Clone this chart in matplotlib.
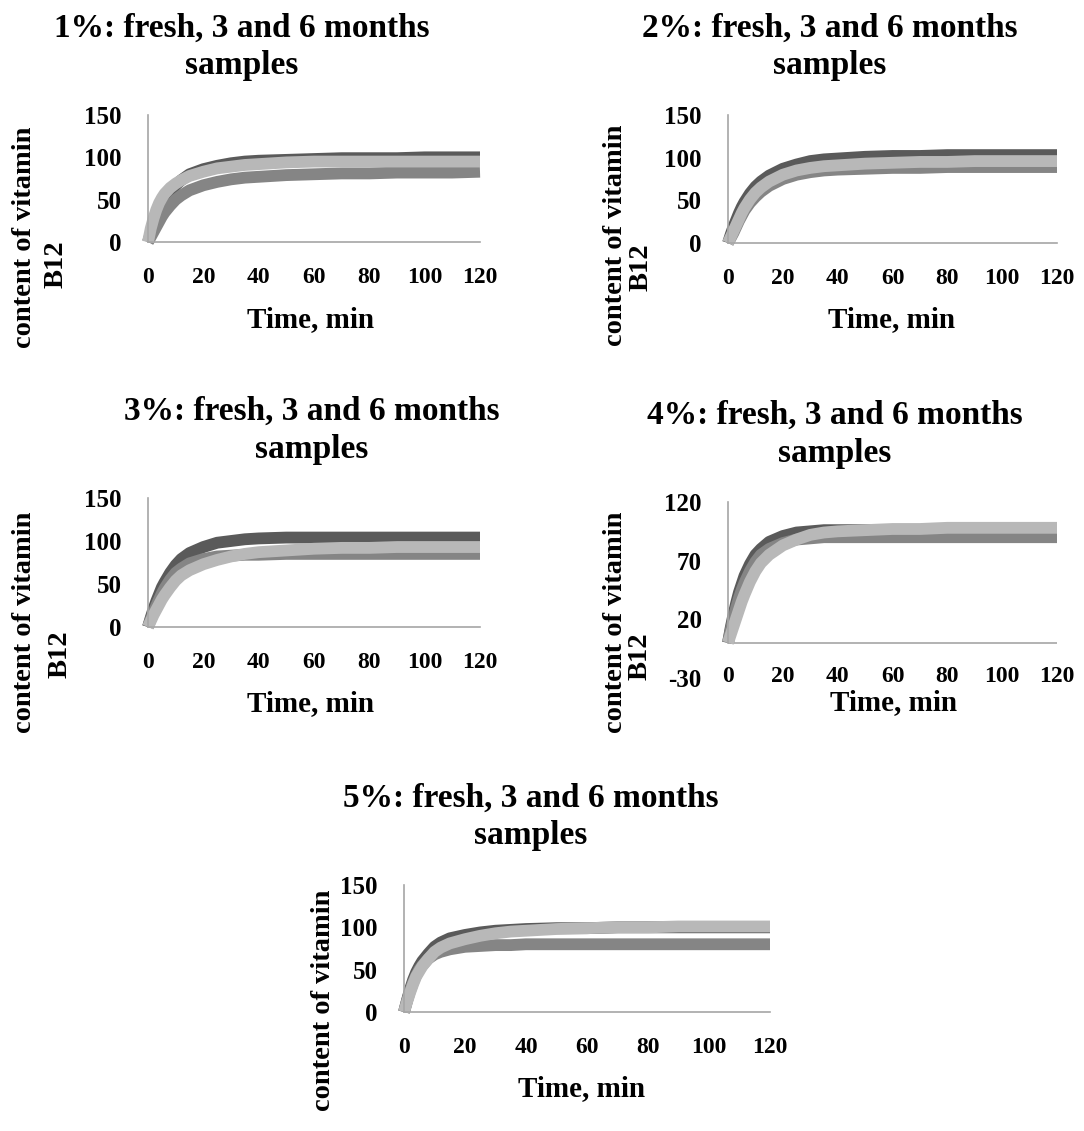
import matplotlib
matplotlib.use("Agg")
import matplotlib.pyplot as plt

plt.rcParams['font.family'] = ['Liberation Serif', 'DejaVu Serif']
plt.rcParams['font.weight'] = 'bold'
plt.rcParams['axes.unicode_minus'] = False

W, H = 1084, 1131

# time, min
time = [0, 1, 2, 3, 4, 5, 6, 8, 10, 12, 15, 20, 25, 30, 35, 40, 50, 60, 70, 80, 90, 100, 110, 120]

# content of vitamin B12 (dark, medium, light grey series)
p1_dark = [0, 10, 20, 29, 37, 44, 50, 59, 67, 73, 80, 86, 90, 93, 95, 96, 97, 98, 99, 99, 99, 100, 100, 100]
p1_medium = [0, 6, 12, 18, 24, 30, 35, 43, 50, 55, 61, 67, 71, 74, 76, 77, 79, 80, 81, 81, 82, 82, 82, 83]
p1_light = [0, 16, 28, 38, 46, 52, 57, 64, 69, 73, 78, 83, 87, 89, 91, 92, 94, 95, 95, 95, 95, 95, 95, 95]

p2_dark = [0, 10, 19, 27, 35, 42, 48, 58, 66, 72, 79, 87, 92, 96, 98, 99, 101, 102, 102, 103, 103, 103, 103, 103]
p2_medium = [0, 6, 12, 19, 26, 32, 38, 47, 54, 60, 67, 75, 80, 83, 85, 86, 87, 88, 88, 89, 89, 89, 89, 89]
p2_light = [0, 7, 14, 21, 28, 35, 41, 51, 59, 65, 72, 80, 85, 88, 90, 91, 93, 94, 95, 95, 96, 96, 96, 96]

p3_dark = [0, 11, 21, 30, 38, 46, 52, 63, 72, 79, 86, 93, 98, 100, 102, 103, 104, 104, 104, 104, 104, 104, 104, 104]
p3_medium = [0, 9, 17, 25, 32, 39, 45, 55, 63, 68, 74, 79, 82, 83, 84, 84, 85, 85, 85, 85, 85, 85, 85, 85]
p3_light = [0, 7, 14, 20, 26, 32, 37, 46, 54, 60, 66, 73, 78, 82, 85, 87, 89, 91, 92, 92, 93, 93, 93, 93]

p4_dark = [0, 13, 24, 34, 43, 50, 57, 67, 75, 80, 86, 91, 94, 95, 96, 96, 96, 96, 96, 96, 96, 96, 96, 96]
p4_medium = [0, 11, 21, 30, 38, 45, 51, 61, 69, 75, 80, 85, 88, 89, 90, 90, 90, 90, 90, 90, 90, 90, 90, 90]
p4_light = [0, 7, 14, 21, 28, 35, 41, 52, 61, 68, 75, 83, 88, 92, 94, 95, 96, 97, 97, 98, 98, 98, 98, 98]

p5_dark = [0, 14, 27, 38, 47, 54, 60, 69, 77, 82, 87, 91, 94, 96, 97, 98, 99, 99, 100, 100, 100, 100, 100, 100]
p5_medium = [0, 13, 25, 35, 43, 50, 55, 63, 68, 71, 74, 77, 78, 79, 79, 80, 80, 80, 80, 80, 80, 80, 80, 80]
p5_light = [0, 12, 23, 33, 42, 48, 54, 63, 71, 76, 81, 86, 90, 93, 95, 96, 98, 99, 100, 100, 101, 101, 101, 101]

titles = ["1%: fresh, 3 and 6 months", "2%: fresh, 3 and 6 months",
          "3%: fresh, 3 and 6 months", "4%: fresh, 3 and 6 months",
          "5%: fresh, 3 and 6 months"]
yticks_std = [0, 50, 100, 150]
yticks_p4 = [-30, 20, 70, 120]
xticks = [0, 20, 40, 60, 80, 100, 120]

colors = ['#5a5a5a', '#858585', '#b8b8b8']
axis_col = '#a6a6a6'


def px(x, y):
    return x / W, 1 - y / H


def panel(fig, rect, series, title, title_xy, ylab, xlab_xy, yticks, ylim, p4=False):
    ax = fig.add_axes(rect)
    for vals, c in zip(series, colors):
        ax.plot(time, vals, color=c, lw=8.5, solid_capstyle='butt', clip_on=False)
    ax.set_xlim(0, 120)
    ax.set_ylim(*ylim)
    ax.set_xticks(xticks)
    ax.set_yticks(yticks)
    for s in ['top', 'right']:
        ax.spines[s].set_visible(False)
    ax.spines['left'].set_color(axis_col)
    ax.spines['left'].set_linewidth(1.2)
    if p4:
        ax.spines['bottom'].set_visible(False)
        ax.spines['left'].set_bounds(0, 120)
        ax.axhline(0, color=axis_col, lw=1.2, zorder=0)
        ax.tick_params(axis='x', length=0, pad=-9, labelsize=17)
    else:
        ax.spines['bottom'].set_color(axis_col)
        ax.spines['bottom'].set_linewidth(1.2)
        ax.tick_params(axis='x', length=0, pad=18, labelsize=17)
    ax.tick_params(axis='y', length=0, pad=19, labelsize=18)
    for lab in ax.get_xticklabels() + ax.get_yticklabels():
        lab.set_fontweight('bold')

    cx, b1, b2 = title_xy
    fig.text(*px(cx, b1), title, ha='center', va='baseline', fontsize=24, fontweight='bold')
    fig.text(*px(cx, b2), "samples", ha='center', va='baseline', fontsize=24, fontweight='bold')

    for (lx, ly), txt in ylab:
        fig.text(*px(lx, ly), txt, rotation=90, ha='center', va='top',
                 fontsize=20.5, fontweight='bold')

    fig.text(*px(*xlab_xy), "Time, min", ha='center', va='baseline',
             fontsize=21, fontweight='bold')
    return ax


fig = plt.figure(figsize=(W / 100, H / 100), dpi=100)

panel(fig, [148 / W, 1 - 242 / H, 332 / W, 127 / H], [p1_dark, p1_medium, p1_light],
      titles[0], (242, 37, 74),
      [((25, 127), "content of vitamin"), ((56, 240), "B12")],
      (311, 327), yticks_std, (0, 150))

panel(fig, [728 / W, 1 - 243 / H, 329 / W, 128 / H], [p2_dark, p2_medium, p2_light],
      titles[1], (830, 37, 74),
      [((615, 125), "content of vitamin"), ((641, 243), "B12")],
      (892, 327), yticks_std, (0, 150))

panel(fig, [148 / W, 1 - 627 / H, 332 / W, 129 / H], [p3_dark, p3_medium, p3_light],
      titles[2], (312, 420, 458),
      [((25, 512), "content of vitamin"), ((60, 630), "B12")],
      (311, 711), yticks_std, (0, 150))

panel(fig, [728 / W, 1 - 678 / H, 329 / W, 176 / H], [p4_dark, p4_medium, p4_light],
      titles[3], (835, 424, 462),
      [((615, 512), "content of vitamin"), ((640, 632), "B12")],
      (894, 710), yticks_p4, (-30, 120), p4=True)

panel(fig, [404 / W, 1 - 1012 / H, 366 / W, 127 / H], [p5_dark, p5_medium, p5_light],
      titles[4], (531, 807, 844),
      [((324, 890), "content of vitamin")],
      (582, 1096), yticks_std, (0, 150))

fig.savefig("out.png", dpi=100)
